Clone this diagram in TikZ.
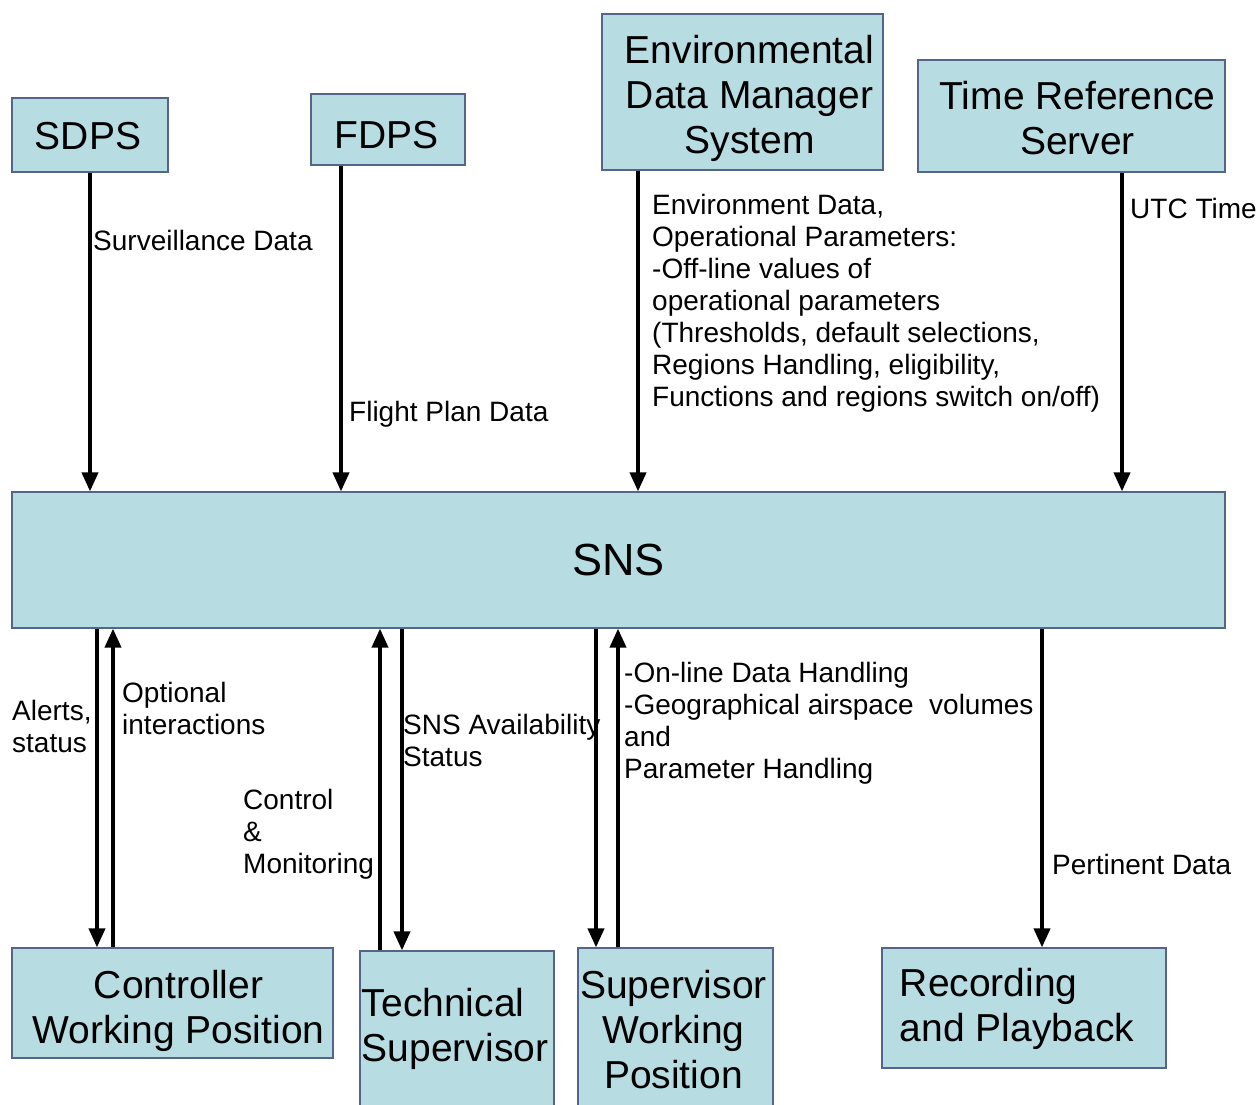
\documentclass[tikz,border=0pt]{standalone}
\usepackage{fontspec}
\setmainfont{Liberation Sans}
\usetikzlibrary{arrows.meta}
\definecolor{boxfill}{HTML}{B7DDE3}
\definecolor{boxline}{HTML}{55658A}
\begin{document}
\begin{tikzpicture}[x=1pt,y=-1pt,
  box/.style={draw=boxline,line width=1.2pt,fill=boxfill,inner sep=0pt},
  bt/.style={inner sep=0pt,font=\fontsize{39}{45}\selectfont,align=center},
  lbl/.style={inner sep=0pt,anchor=west,align=left,font=\fontsize{28}{32}\selectfont},
  arr/.style={line width=3.8pt,-{Triangle[length=19pt,width=16pt]}}]
\useasboundingbox (0,0) rectangle (1258,1104);
\fill[white] (0,0) rectangle (1258,1104);
% boxes
\node[box,minimum width=156pt,minimum height=74pt,
  label={[bt,xshift=-2pt,yshift=-1pt]center:SDPS}] (sdps) at (90,135) {};
\node[box,minimum width=154pt,minimum height=71pt,
  label={[bt,xshift=-1pt,yshift=-6pt]center:FDPS}] (fdps) at (388,129.5) {};
\node[box,minimum width=281pt,minimum height=156pt,
  label={[bt,xshift=7pt,yshift=-6pt]center:Environmental\\Data Manager\\System}] (edms) at (742.5,92) {};
\node[box,minimum width=307pt,minimum height=112pt,
  label={[bt,xshift=6pt,yshift=-2pt]center:Time Reference\\Server}] (trs) at (1071.5,116) {};
\node[box,minimum width=1213pt,minimum height=136pt,
  label={[bt,font=\fontsize{45}{50}\selectfont]center:SNS}] (sns) at (618.5,560) {};
\node[box,minimum width=321pt,minimum height=110pt,
  label={[bt,xshift=6pt,yshift=-8pt]center:Controller\\Working Position}] (cwp) at (172.5,1003) {};
\node[box,minimum width=194pt,minimum height=156pt,
  label={[bt,align=left,xshift=-2pt]center:Technical\\Supervisor}] (ts) at (457,1029) {};
\node[box,minimum width=195pt,minimum height=158pt,
  label={[bt,xshift=-2pt,yshift=-3pt]center:Supervisor\\Working\\Position}] (swp) at (675.5,1027) {};
\node[box,minimum width=284pt,minimum height=120pt,
  label={[bt,align=left,xshift=-7pt,yshift=-1pt]center:Recording\\and Playback}] (rp) at (1024,1008) {};
% top arrows
\draw[arr] (sdps.south -| 90,0) -- (sns.north -| 90,0);
\draw[arr] (fdps.south -| 341,0) -- (sns.north -| 341,0);
\draw[arr] (edms.south -| 638,0) -- (sns.north -| 638,0);
\draw[arr] (trs.south -| 1122,0) -- (sns.north -| 1122,0);
% bottom arrows
\draw[arr] (sns.south -| 97,0) -- (cwp.north -| 97,0);
\draw[arr] (cwp.north -| 113,0) -- (sns.south -| 113,0);
\draw[arr] (ts.north -| 380,0) -- (sns.south -| 380,0);
\draw[arr] (sns.south -| 402,0) -- (ts.north -| 402,0);
\draw[arr] (sns.south -| 596,0) -- (swp.north -| 596,0);
\draw[arr] (swp.north -| 618,0) -- (sns.south -| 618,0);
\draw[arr] (sns.south -| 1042,0) -- (rp.north -| 1042,0);
% labels
\node[lbl] (l1) at (93,240) {Surveillance Data};
\node[lbl] (l2) at (349,414) {Flight Plan Data};
\node[lbl] (l3) at (652,303.5) {Environment Data,\\Operational Parameters:\\-Off-line values of\\operational parameters\\(Thresholds, default selections,\\Regions Handling, eligibility,\\Functions and regions switch on/off)};
\node[lbl] (l4) at (1130,208) {UTC Time};
\node[lbl] (l5) at (12,726) {Alerts,\\status};
\node[lbl] (l6) at (122,708) {Optional\\interactions};
\node[lbl] (l7) at (243,834) {Control\\\&\\Monitoring};
\node[lbl] (l8) at (403,740) {SNS Availability\\Status};
\node[lbl] (l9) at (624,723) {-On-line Data Handling\\-Geographical airspace\ \ volumes\\and\\Parameter Handling};
\node[lbl] (l10) at (1052,864) {Pertinent Data};
\end{tikzpicture}
\end{document}
